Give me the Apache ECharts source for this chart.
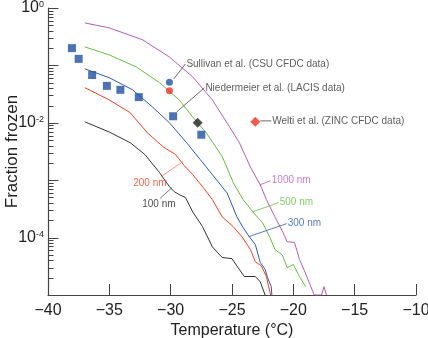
<!DOCTYPE html>
<html>
<head>
<meta charset="utf-8">
<script src="https://cdn.jsdelivr.net/npm/echarts@6/dist/echarts.min.js"></script>
<style>
  html, body { margin: 0; padding: 0; background: #fff; }
  #chart { width: 428px; height: 338px; }
</style>
</head>
<body>
<div id="chart"></div>
<script>
// size curves: [temperature (°C), fraction frozen]
const curve1000nm = [[-37.0,0.55],[-35.0,0.45],[-32.3,0.28],[-30.1,0.14],[-28.2,0.063],[-26.6,0.025],[-25.2,0.0085],[-24.4,0.0045],[-23.5,0.0017],[-22.7,8.3e-4],[-22.2,4.6e-4],[-21.5,2.3e-4],[-20.9,1.3e-4],[-20.5,8.5e-5],[-19.9,8.2e-5],[-19.5,4.2e-5],[-18.9,2.1e-5],[-18.3,1e-5],[-17.7,1e-5],[-17.5,1.4e-5],[-17.3,1e-5]]
const curve500nm = [[-37.0,0.21],[-35.0,0.152],[-32.8,0.094],[-30.9,0.05],[-29.3,0.025],[-28.2,0.0126],[-27.1,0.0067],[-25.8,0.0026],[-24.9,9.1e-4],[-24.1,4.6e-4],[-23.3,2.8e-4],[-22.5,1.8e-4],[-21.9,1.0e-4],[-21.5,6.2e-5],[-20.9,5.0e-5],[-20.5,3.0e-5],[-20.0,3.4e-5],[-19.5,2.1e-5],[-19.0,1.4e-5]]
const curve300nm = [[-37.0,0.087],[-35.0,0.061],[-33.1,0.0375],[-31.5,0.019],[-30.1,0.010],[-28.7,0.0045],[-27.6,0.0023],[-26.6,0.00125],[-25.4,6e-4],[-24.6,2.3e-4],[-24.1,1.5e-4],[-23.6,1.04e-4],[-23.1,7.6e-5],[-22.7,3.7e-5],[-22.3,2.8e-5],[-22.1,2.0e-5],[-21.8,1.4e-5],[-21.75,1e-5]]
const curve200nm = [[-37.0,0.041],[-35.0,0.025],[-33.3,0.015],[-31.9,0.0067],[-30.6,0.0038],[-29.6,0.0028],[-28.9,0.0018],[-28.2,0.00125],[-27.4,7.7e-4],[-26.6,4.6e-4],[-25.8,2.3e-4],[-24.9,1.55e-4],[-24.2,1.04e-4],[-23.5,6.2e-5],[-23.1,3.8e-5],[-22.6,3.2e-5],[-22.2,2.1e-5],[-21.85,1e-5]]
const curve100nm = [[-37.0,0.0104],[-35.0,0.0069],[-33.3,0.0045],[-32.1,0.0028],[-30.9,0.00135],[-30.1,7.7e-4],[-29.7,6.3e-4],[-29.3,5.6e-4],[-28.8,5e-4],[-28.2,2.8e-4],[-27.4,1.55e-4],[-26.6,6.9e-5],[-25.8,4.5e-5],[-25.0,4.3e-5],[-24.6,3.2e-5],[-24.0,2.1e-5],[-23.1,2.1e-5],[-22.7,1.7e-5],[-22.3,1e-5]]

// measurements
const lacisSquares = [[-38.05,0.20],[-37.5,0.13],[-36.4,0.068],[-35.2,0.044],[-34.1,0.0375],[-32.6,0.028],[-29.8,0.013],[-27.5,0.0062]]
const csuBlue = [[-30.1,0.051]]
const csuRed = [[-30.1,0.036]]
const blackDiamond = [[-27.8,0.010]]
const zincDiamond = [[-23.1,0.0104]]

// annotations: leader from -> to (label sits at the "to" end)
const notes = [
  { text: 'Sullivan et al. (CSU CFDC data)', from: [-29.75,0.058], to: [-28.8,0.106], color: '#444', textColor: '#333', pos: 'right' },
  { text: 'Niedermeier et al. (LACIS data)', from: [-29.5,0.0155], to: [-27.25,0.0407], color: '#444', textColor: '#333', pos: 'right' },
  { text: 'Welti et al. (ZINC CFDC data)', from: [-22.7,0.0108], to: [-21.8,0.0108], color: '#444', textColor: '#333', pos: 'right' },
  { text: '1000 nm', from: [-22.74,8.3e-4], to: [-21.84,9.8e-4], color: '#b45db5', textColor: '#b45db5', pos: 'right' },
  { text: '500 nm', from: [-23.31,2.8e-4], to: [-21.19,4.1e-4], color: '#66bb44', textColor: '#66bb44', pos: 'right' },
  { text: '300 nm', from: [-23.63,1.04e-4], to: [-20.54,1.75e-4], color: '#2d5ca8', textColor: '#2d5ca8', pos: 'right' },
  { text: '200 nm', from: [-29.0,0.0021], to: [-30.8,0.00115], color: '#f07a66', textColor: '#e8442a', pos: [-11, 7] },
  { text: '100 nm', from: [-29.9,7.4e-4], to: [-30.88,4.8e-4], color: '#555', textColor: '#222', pos: [-1, 6] }
]

const yMajor = [1e-5,1e-4,1e-3,1e-2,1e-1,1]
const yLabeled = [1e-4,1e-2,1]
const yMinor = []
for (let k = -5; k < 0; k++) for (let m = 2; m <= 9; m++) yMinor.push(m * Math.pow(10, k))

// y axis ticks drawn as [x at left edge, value, tick length]
const yTickData = yMajor.map(v => [-40, v, 10]).concat(yMinor.map(v => [-40, v, 5]))

const chart = echarts.init(document.getElementById('chart'))

function curve(name, data, color) {
  return { name, type: 'line', data, symbol: 'none', lineStyle: { color, width: 1 }, z: 2, silent: true }
}

const series = [
  curve('1000 nm', curve1000nm, '#b45db5'),
  curve('500 nm', curve500nm, '#66bb44'),
  curve('300 nm', curve300nm, '#2d5ca8'),
  curve('200 nm', curve200nm, '#e8442a'),
  curve('100 nm', curve100nm, '#333'),
  { type: 'scatter', data: lacisSquares, symbol: 'rect', symbolSize: 8, itemStyle: { color: '#2150a0' }, z: 5 },
  { type: 'scatter', data: csuBlue, symbol: 'circle', symbolSize: 7, itemStyle: { color: '#2150a0' }, z: 5 },
  { type: 'scatter', data: csuRed, symbol: 'circle', symbolSize: 7, itemStyle: { color: '#ee3322' }, z: 5 },
  { type: 'scatter', data: blackDiamond, symbol: 'diamond', symbolSize: 10, itemStyle: { color: '#222' }, z: 5 },
  { type: 'scatter', data: zincDiamond, symbol: 'diamond', symbolSize: 10, itemStyle: { color: '#ef3322' }, z: 5 },
  {
    type: 'custom', data: yTickData, silent: true, clip: false, z: 10,
    renderItem: (params, api) => {
      const p = api.coord([api.value(0), api.value(1)])
      const x = Math.round(p[0]) + 0.5
      const y = Math.round(p[1]) + 0.5
      return { type: 'line', shape: { x1: x, y1: y, x2: x + api.value(2), y2: y }, style: { stroke: '#444', lineWidth: 1 } }
    }
  }
]

notes.forEach(n => {
  series.push({ type: 'line', data: [n.from, n.to], symbol: 'none', lineStyle: { color: n.color, width: 0.8 }, z: 3, silent: true })
  const label = { show: true, formatter: n.text, color: n.textColor, fontSize: 10, fontFamily: 'Liberation Sans' }
  if (n.pos === 'right') { label.position = 'right'; label.distance = 1 }
  else { label.position = n.pos; label.align = 'center'; label.verticalAlign = 'middle' }
  series.push({ type: 'scatter', data: [n.to], symbolSize: 0, itemStyle: { color: 'transparent' }, label, z: 6, silent: true })
})

chart.setOption({
  animation: false,
  textStyle: { fontFamily: 'Liberation Sans' },
  grid: { left: 48, right: 12, top: 8, bottom: 43, outerBounds: { left: -40, right: -40, top: -40, bottom: -40 } },
  xAxis: {
    type: 'value', min: -40, max: -10, interval: 5,
    name: 'Temperature (°C)', nameLocation: 'middle', nameGap: 28, nameMoveOverlap: false,
    nameTextStyle: { fontSize: 16, color: '#222' },
    axisLine: { lineStyle: { color: '#444', width: 1 } },
    axisTick: { inside: true, length: 11, lineStyle: { color: '#444' } },
    axisLabel: { fontSize: 16, color: '#222', margin: 8, formatter: v => v < 0 ? '\u2212' + (-v) : String(v) },
    splitLine: { show: false }
  },
  yAxis: {
    type: 'log', logBase: 10, min: 1e-5, max: 1,
    name: 'Fraction frozen', nameLocation: 'middle', nameGap: 27, nameMoveOverlap: false,
    nameTextStyle: { fontSize: 17, color: '#222' },
    axisLine: { show: true, onZero: false, lineStyle: { color: '#444', width: 1.2 } },
    axisTick: { show: false },
    axisLabel: {
      customValues: yLabeled, margin: 4, color: '#222',
      formatter: v => '{b|10}{s|' + Math.round(Math.log10(v)) + '}',
      rich: { b: { fontSize: 16, lineHeight: 16 }, s: { fontSize: 9, lineHeight: 16, verticalAlign: 'top' } }
    },
    splitLine: { show: false }
  },
  series
})
</script>
</body>
</html>
